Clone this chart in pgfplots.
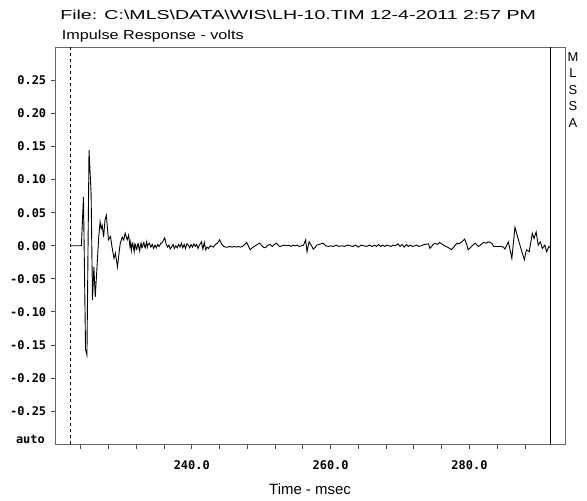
\documentclass[border=0pt]{standalone}
\usepackage{pgfplots}
\pgfplotsset{compat=1.18}
\usepackage{fontspec}
\setmainfont{Liberation Sans}
\newfontfamily\tickfont{DejaVu Sans Mono}

\pgfplotstableread{
t v
222.56 0
224.1 0
224.4 0.074
224.7 -0.157
224.9 -0.165
225.2 0.145
225.5 0.079
225.7 -0.082
225.9 -0.032
226.1 -0.077
226.3 -0.041
226.6 0.014
226.8 0.036
226.95 0.026
227.1 0.031
227.3 0.013
227.5 0.039
227.7 0.046
227.8 0.033
228.0 0.009
228.3 0.014
228.5 -0.001
228.8 -0.019
229.0 -0.011
229.3 -0.032
229.5 -0.013
229.7 0.004
230.0 0.013
230.2 0.009
230.4 0.019
230.7 0.009
230.9 0.016
231.1 -0.001
231.2 0.005
231.3 -0.007
231.4 0.001
231.5 0.004
231.6 -0.003
231.7 -0.009
231.8 0.003
231.9 0.002
232.0 -0.006
232.1 -0.005
232.2 0.002
232.3 0.003
232.4 -0.004
232.5 -0.008
232.6 0.001
232.7 0.004
232.8 -0.003
232.9 -0.002
233.0 0.003
233.1 0.005
233.2 -0.001
233.3 -0.003
233.4 0.002
233.5 0.006
233.6 -0.002
233.7 0.001
233.8 0.003
233.9 0.004
234.1 -0.002
234.3 0.002
234.5 -0.004
234.7 0.001
234.9 -0.003
235.1 0.002
235.3 -0.001
235.5 0.003
235.8 0.006
236.1 0.012
236.3 0.003
236.5 -0.002
236.7 0.001
236.9 -0.005
237.1 -0.002
237.3 0.002
237.5 -0.004
237.7 0.000
237.9 -0.003
238.1 0.002
238.3 -0.002
238.5 0.004
238.7 -0.003
238.9 0.002
239.1 -0.004
239.3 0.003
239.5 0.001
239.7 -0.003
239.9 0.002
240.1 -0.002
240.3 0.003
240.5 -0.001
240.7 0.002
240.9 -0.004
241.1 0.001
241.4 0.006
241.6 -0.005
241.8 0.005
242.0 -0.006
242.2 -0.002
242.4 -0.004
242.7 0.000
243.1 -0.002
243.4 0.002
243.7 0.004
244.0 0.009
244.3 0.003
244.6 -0.001
244.9 -0.002
245.2 -0.002
245.5 -0.001
245.8 -0.002
246.1 -0.001
246.4 -0.002
246.7 -0.001
247.0 -0.002
247.3 -0.001
247.6 0.002
247.9 0.005
248.1 0.001
248.4 -0.006
248.7 -0.003
249.0 -0.001
249.3 0.001
249.6 0.003
249.8 0.004
250.1 0.000
250.4 -0.003
250.7 -0.002
251.0 0.001
251.3 0.002
251.6 -0.001
251.9 0.002
252.2 0.004
252.5 0.000
252.7 -0.001
253.0 0.000
253.3 0.001
253.7 0.000
254.0 0.001
254.3 -0.001
254.6 0.001
254.9 0.000
255.2 0.001
255.5 -0.001
255.8 0.000
256.1 0.001
256.4 0.009
256.6 -0.009
256.9 0.006
257.2 0.001
257.5 -0.005
257.8 -0.002
258.0 0.001
258.3 0.002
258.9 0.004
259.3 0.000
259.7 -0.001
260.0 0.000
260.4 -0.001
260.8 0.001
261.2 -0.001
261.6 0.000
262.0 -0.001
262.4 0.001
262.8 0.000
263.2 -0.001
263.6 0.001
264.0 -0.002
264.4 0.001
264.8 0.000
265.2 -0.001
265.6 0.001
266.0 -0.001
266.3 0.001
266.6 -0.001
266.9 0.002
267.2 -0.001
267.5 0.001
267.8 -0.001
268.1 0.001
268.4 0.000
268.7 -0.001
269.0 0.001
269.3 0.000
269.7 0.003
270.0 -0.001
270.3 0.002
270.6 -0.002
270.9 0.002
271.2 -0.001
271.5 0.001
271.8 -0.001
272.1 0.000
272.4 0.001
272.7 -0.001
273.0 0.000
273.5 0.002
274.1 0.003
274.3 -0.004
274.7 0.001
275.0 0.004
275.4 0.002
275.7 0.005
276.1 0.002
276.6 -0.001
277.0 -0.003
277.4 -0.006
277.8 -0.001
278.2 0.004
278.5 0.003
278.9 0.006
279.3 0.010
279.6 0.002
279.8 -0.006
280.1 -0.003
280.3 -0.001
280.8 0.004
281.3 -0.001
281.7 0.002
282.0 0.005
282.4 0.004
282.7 0.006
283.2 0.004
283.5 -0.001
284.0 -0.001
284.5 -0.001
284.9 -0.002
285.1 -0.005
285.6 0.006
286.1 -0.019
286.55 0.028
287.0 0.011
287.4 -0.004
287.9 -0.021
288.2 -0.006
288.6 -0.009
289.05 0.019
289.3 0.011
289.6 0.021
289.9 0.001
290.2 0.006
290.5 -0.004
290.85 0.001
291.1 -0.009
291.45 -0.001
291.7 -0.004
}\irdata

\begin{document}
\begin{tikzpicture}[x=1bp,y=1bp]
\useasboundingbox (0,0) rectangle (587,501);
\begin{axis}[
    at={(55.7bp,56.7bp)}, anchor=south west,
    scale only axis,
    width=509.3bp, height=397bp,
    xmin=220.4, xmax=293.76,
    ymin=-0.3, ymax=0.3,
    axis line style={black!60, line width=1bp},
    tick align=outside,
    xtick pos=bottom, ytick pos=left,
    major tick length=5bp,
    tick style={black!70, line width=1bp},
    xtick={224,228,...,288},
    xticklabels={,,,,240.0,,,,,260.0,,,,,280.0,,},
    ytick={-0.25,-0.20,...,0.26},
    yticklabels={-0.25,-0.20,-0.15,-0.10,-0.05,0.00,0.05,0.10,0.15,0.20,0.25},
    ticklabel style={font=\tickfont\bfseries\fontsize{12}{12}\selectfont},
    xticklabel style={yshift=-8bp},
    yticklabel style={xshift=-1bp},
]
\addplot[black, dashed, line width=0.8bp] coordinates {(222.56,-0.3) (222.56,0.3)};
\addplot[black, line width=1bp] coordinates {(291.7,-0.3) (291.7,0.3)};
\addplot[black, line width=0.9bp] table[x=t, y=v] {\irdata};
\end{axis}
\node[anchor=base west, inner sep=0, font=\fontsize{13}{13}\selectfont, xscale=1.51] at (60,481)
  {File: C:\textbackslash MLS\textbackslash DATA\textbackslash WIS\textbackslash LH-10.TIM 12-4-2011 2:57 PM};
\node[anchor=base west, inner sep=0, font=\fontsize{13}{13}\selectfont, xscale=1.25] at (61.7,461)
  {Impulse Response - volts};
\node[anchor=base east, inner sep=0, font=\tickfont\bfseries\fontsize{12}{12}\selectfont] at (45,57) {auto};
\node[anchor=base, inner sep=0, font=\fontsize{15}{15}\selectfont] at (310,6) {Time - msec};
\node[anchor=north, inner sep=0, align=center, font=\fontsize{13}{16.6}\selectfont] at (573,449) {M\\L\\S\\S\\A};
\end{tikzpicture}
\end{document}
